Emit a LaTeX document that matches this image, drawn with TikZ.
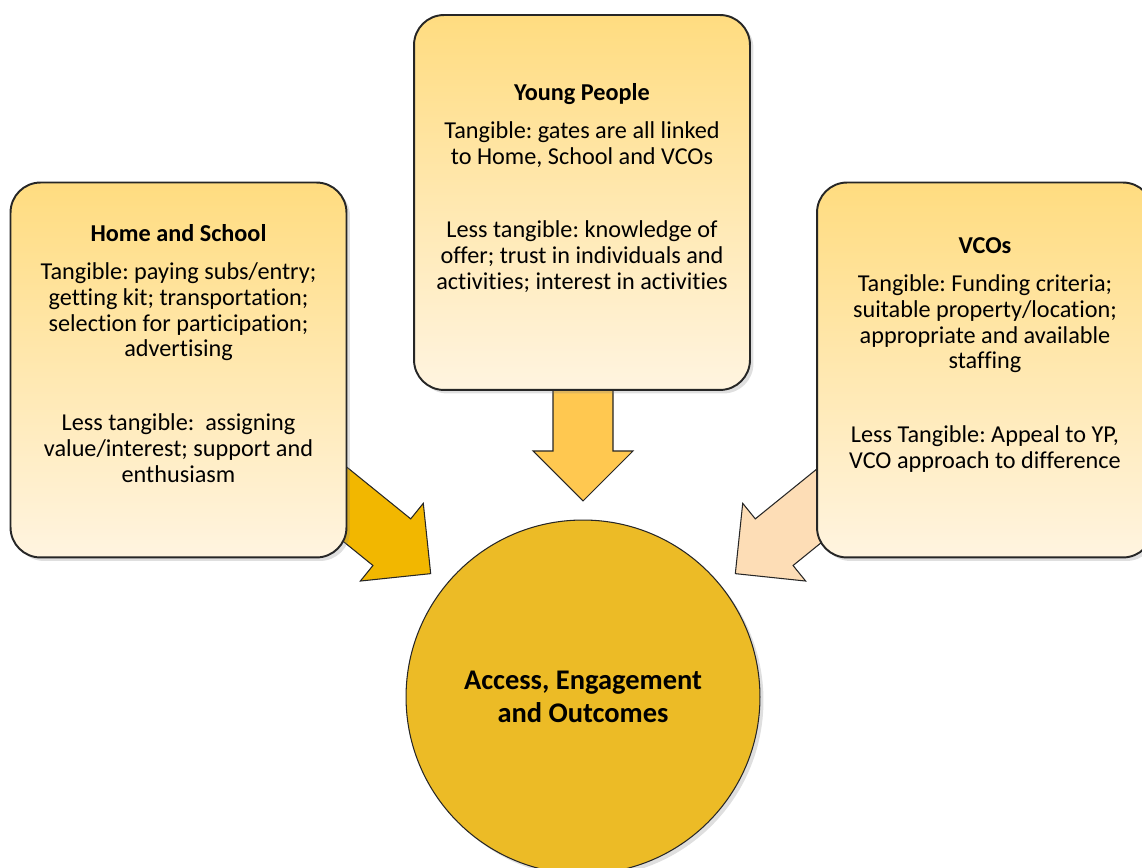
\documentclass[tikz,border=0pt]{standalone}
\usepackage{fontspec}
\setmainfont{Carlito}[Ligatures=NoCommon]
\frenchspacing
\usetikzlibrary{positioning,shadows,calc}

\definecolor{boxtop}{RGB}{255,220,128}
\definecolor{boxbot}{RGB}{255,244,224}
\definecolor{outfill}{RGB}{236,187,38}
\definecolor{hsarrow}{RGB}{242,183,0}
\definecolor{yparrow}{RGB}{255,200,80}
\definecolor{vcoarrow}{RGB}{253,221,182}

\tikzset{
  gate/.style={draw=black!85, line width=1.1pt, rounded corners=0.6cm,
    minimum width=6.72cm, minimum height=7.5cm, top color=boxtop, bottom color=boxbot,
    drop shadow={opacity=0.25, shadow xshift=2pt, shadow yshift=-2pt}},
  gatetext/.style={align=center, inner sep=0pt, font=\fontsize{13.8}{14.6}\selectfont},
  blockarrow/.pic={
    \path[pic actions] (0,0) -- (-50,50) -- (-50,30) -- (-160,30)
      -- (-160,-30) -- (-50,-30) -- (-50,-50) -- cycle;
  },
  flow/.style={draw=black!85, line width=0.6pt,
    drop shadow={opacity=0.2, shadow xshift=1.5pt, shadow yshift=-1.5pt}}
}

\begin{document}
\begin{tikzpicture}[x=0.02cm, y=0.02cm]
\useasboundingbox (0,0) rectangle (1142,868);
\clip (0,0) rectangle (1142,868);

% outcome in the middle
\node[circle, draw=black!85, line width=0.6pt, fill=outfill, minimum size=7.08cm, inner sep=0pt,
      align=center, font=\fontsize{16.2}{18.8}\selectfont\bfseries,
      drop shadow={opacity=0.25, shadow xshift=2pt, shadow yshift=-2pt}]
      (outc) at (583,171) {Access, Engagement\\and Outcomes};

% arrows into the outcome
\pic[flow, fill=hsarrow, rotate=-39] at ($(outc.center)+(141:196)$) {blockarrow};
\pic[flow, fill=yparrow, rotate=-90] at ($(outc.center)+(90:196)$) {blockarrow};
\pic[flow, fill=vcoarrow, rotate=219] at ($(outc.center)+(39:196)$) {blockarrow};

% the three gates
\node[gate] (home) at (178.5,498) {};
\node[gate] (young) at (582,665.5) {};
\node[gate] (vco) at (985,498) {};

\node[gatetext, below=0.86cm of home.north] (homet)
  {\textbf{Home and School}\\[7pt]
   Tangible: paying subs/entry;\\ getting kit; transportation;\\
   selection for participation;\\ advertising\\[27.5pt]
   Less tangible:\ \ assigning\\ value/interest; support and\\ enthusiasm};
\node[gatetext, below=1.38cm of young.north] (youngt)
  {\textbf{Young People}\\[7pt]
   Tangible: gates are all linked\\ to Home, School and VCOs\\[27.5pt]
   Less tangible: knowledge of\\ offer; trust in individuals and\\
   activities; interest in activities};
\node[gatetext, below=1.12cm of vco.north] (vcot)
  {\textbf{VCOs}\\[7pt]
   Tangible: Funding criteria;\\ suitable property/location;\\
   appropriate and available\\ staffing\\[27.5pt]
   Less Tangible: Appeal to YP,\\ VCO approach to difference};
\end{tikzpicture}
\end{document}
